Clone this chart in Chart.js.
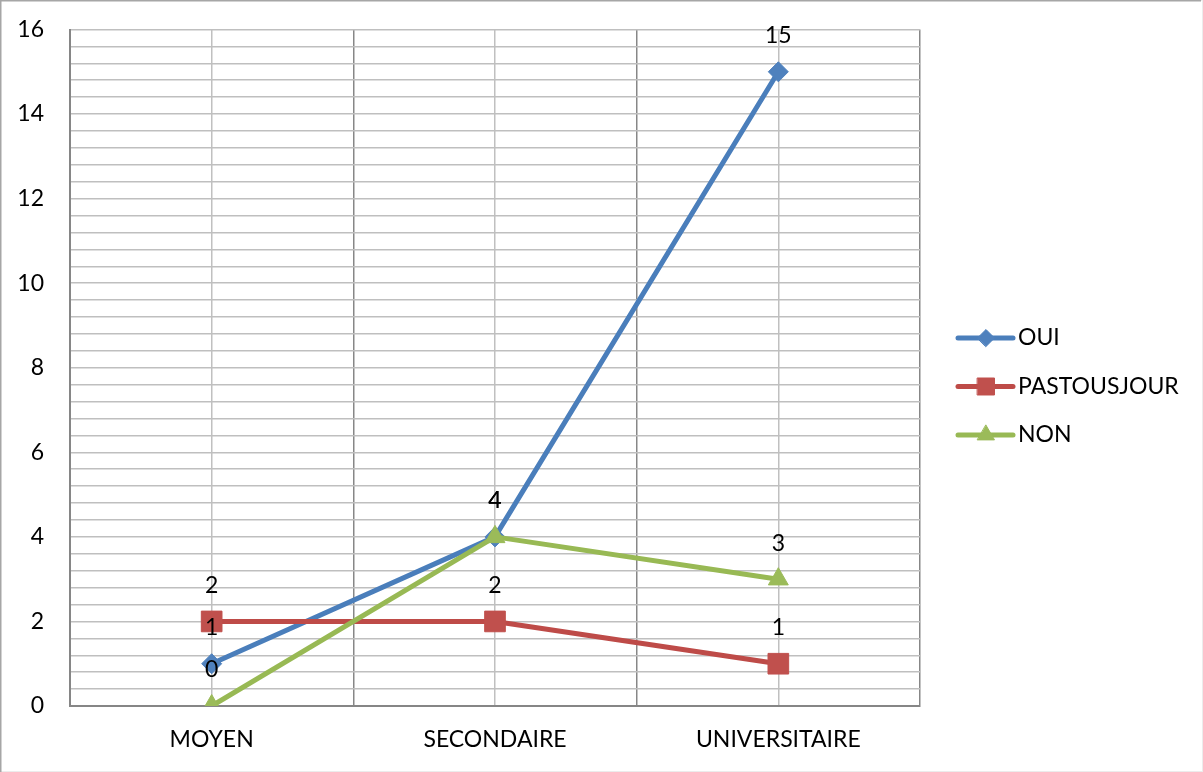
<!DOCTYPE html>
<html>
<head>
<meta charset="utf-8">
<script src="https://cdn.jsdelivr.net/npm/chart.js@4/dist/chart.umd.min.js"></script>
<style>
  html, body { margin: 0; padding: 0; background: #ffffff; }
  #wrap { position: absolute; left: 0; top: 0; width: 1203px; height: 772px; }
</style>
</head>
<body>
<div id="wrap"><canvas id="c" width="1203" height="772"></canvas></div>
<script>
// Niveau d'étude (catégories) et réponses par série
const categories = ['MOYEN', 'SECONDAIRE', 'UNIVERSITAIRE'];
const seriesNames = ['OUI', 'PASTOUSJOUR', 'NON'];
const ouiValues = [1, 4, 15];
const pasToujoursValues = [2, 2, 1];
const nonValues = [0, 4, 3];
const yTickLabels = [0, 2, 4, 6, 8, 10, 12, 14, 16];

const FONT = 'Lato, "Open Sans", sans-serif';
const FONT_SIZE = 23;
const lineColors = ['#4A7EBB', '#BE4B48', '#98B954'];
const markerColors = ['#4F81BD', '#C0504D', '#9BBB59'];
const markerStyles = ['rectRot', 'rect', 'triangle'];
const markerRadii = [10, 14.6, 11.5];
const legendRadii = [8.5, 12, 9.8];

const seriesValues = [ouiValues, pasToujoursValues, nonValues];

const datasets = seriesNames.map((name, i) => ({
  label: name,
  data: seriesValues[i],
  borderColor: lineColors[i],
  backgroundColor: markerColors[i],
  borderWidth: 5,
  pointStyle: markerStyles[i],
  pointRadius: markerRadii[i],
  pointHoverRadius: markerRadii[i],
  pointBackgroundColor: markerColors[i],
  pointBorderColor: markerColors[i],
  pointBorderWidth: 1,
  borderJoinStyle: 'round',
  tension: 0,
  fill: false,
  order: seriesNames.length - i   // later series drawn on top
}));

// White background and thin frame around the chart
const framePlugin = {
  id: 'frame',
  beforeDraw(chart) {
    const ctx = chart.ctx;
    ctx.save();
    ctx.fillStyle = '#ffffff';
    ctx.fillRect(0, 0, chart.width, chart.height);
    ctx.strokeStyle = '#ececec';
    ctx.lineWidth = 1;
    ctx.strokeRect(0.5, 0.5, chart.width - 1, chart.height - 1);
    ctx.strokeStyle = '#a6a6a6';
    ctx.lineWidth = 1.5;
    ctx.beginPath();
    ctx.moveTo(0, 0.75); ctx.lineTo(chart.width - 2, 0.75);
    ctx.moveTo(0.75, 0); ctx.lineTo(0.75, chart.height);
    ctx.stroke();
    ctx.restore();
  }
};

// Value labels above each point
const valueLabelPlugin = {
  id: 'valueLabels',
  afterDatasetsDraw(chart) {
    const ctx = chart.ctx;
    ctx.save();
    ctx.font = FONT_SIZE + 'px ' + FONT;
    ctx.fillStyle = '#000000';
    ctx.textAlign = 'center';
    ctx.textBaseline = 'middle';
    chart.data.datasets.forEach((ds, di) => {
      const meta = chart.getDatasetMeta(di);
      meta.data.forEach((pt, j) => {
        ctx.fillText(String(ds.data[j]), pt.x, pt.y - 36);
      });
    });
    ctx.restore();
  }
};

// Legend on the right: line segment with marker, then series name
const sideLegendPlugin = {
  id: 'sideLegend',
  afterDraw(chart) {
    const ctx = chart.ctx;
    const x0 = 958, x1 = 1013, xm = 986, xt = 1018;
    const yStart = 338, step = 48.5;
    ctx.save();
    chart.data.datasets.forEach((ds, i) => {
      const y = yStart + i * step;
      ctx.strokeStyle = ds.borderColor;
      ctx.lineWidth = 5;
      ctx.lineCap = 'round';
      ctx.beginPath();
      ctx.moveTo(x0, y);
      ctx.lineTo(x1, y);
      ctx.stroke();
      ctx.fillStyle = ds.pointBackgroundColor;
      ctx.strokeStyle = ds.pointBorderColor;
      ctx.lineWidth = 1;
      Chart.helpers.drawPoint(ctx, { pointStyle: ds.pointStyle, radius: legendRadii[i], rotation: 0, borderWidth: 1 }, xm, y);
      ctx.fillStyle = '#000000';
      ctx.font = FONT_SIZE + 'px ' + FONT;
      ctx.textAlign = 'left';
      ctx.textBaseline = 'middle';
      ctx.fillText(ds.label, xt, y);
    });
    ctx.restore();
  }
};

const isMajor = (v) => yTickLabels.some(t => Math.abs(t - v) < 1e-6);

new Chart(document.getElementById('c'), {
  type: 'line',
  data: { labels: categories, datasets },
  plugins: [framePlugin, valueLabelPlugin, sideLegendPlugin],
  options: {
    responsive: false,
    devicePixelRatio: 1,
    animation: false,
    layout: { padding: { top: 29.5, right: 283, left: 0, bottom: 0 } },
    plugins: { legend: { display: false }, tooltip: { enabled: false } },
    scales: {
      x: {
        type: 'category',
        position: 'bottom',
        offset: true,
        grid: { offset: true, color: '#878787', lineWidth: 1.5, drawTicks: false },
        border: { color: '#868686', width: 2 },
        ticks: { color: '#000000', font: { family: FONT, size: FONT_SIZE }, padding: 20, maxRotation: 0 },
        afterFit(s) { s.height = 66; }
      },
      xCenters: {
        type: 'category',
        labels: categories,
        position: 'top',
        offset: true,
        grid: { offset: false, color: '#c0c0c0', lineWidth: 1.5, drawTicks: false },
        border: { display: false },
        ticks: { display: false },
        afterFit(s) { s.height = 0; s.paddingTop = 0; s.paddingBottom = 0; }
      },
      y: {
        min: 0,
        max: 16,
        grid: { color: '#bfbfbf', lineWidth: 1.5, drawTicks: false },
        border: { color: '#868686', width: 2 },
        ticks: {
          stepSize: 0.4,
          autoSkip: false,
          padding: 26,
          color: '#000000',
          font: { family: FONT, size: FONT_SIZE },
          callback: (v) => isMajor(v) ? String(Math.round(v)) : ''
        },
        afterFit(s) { s.width = 70; s.paddingTop = 0; s.paddingBottom = 0; }
      }
    }
  }
});
</script>
</body>
</html>
